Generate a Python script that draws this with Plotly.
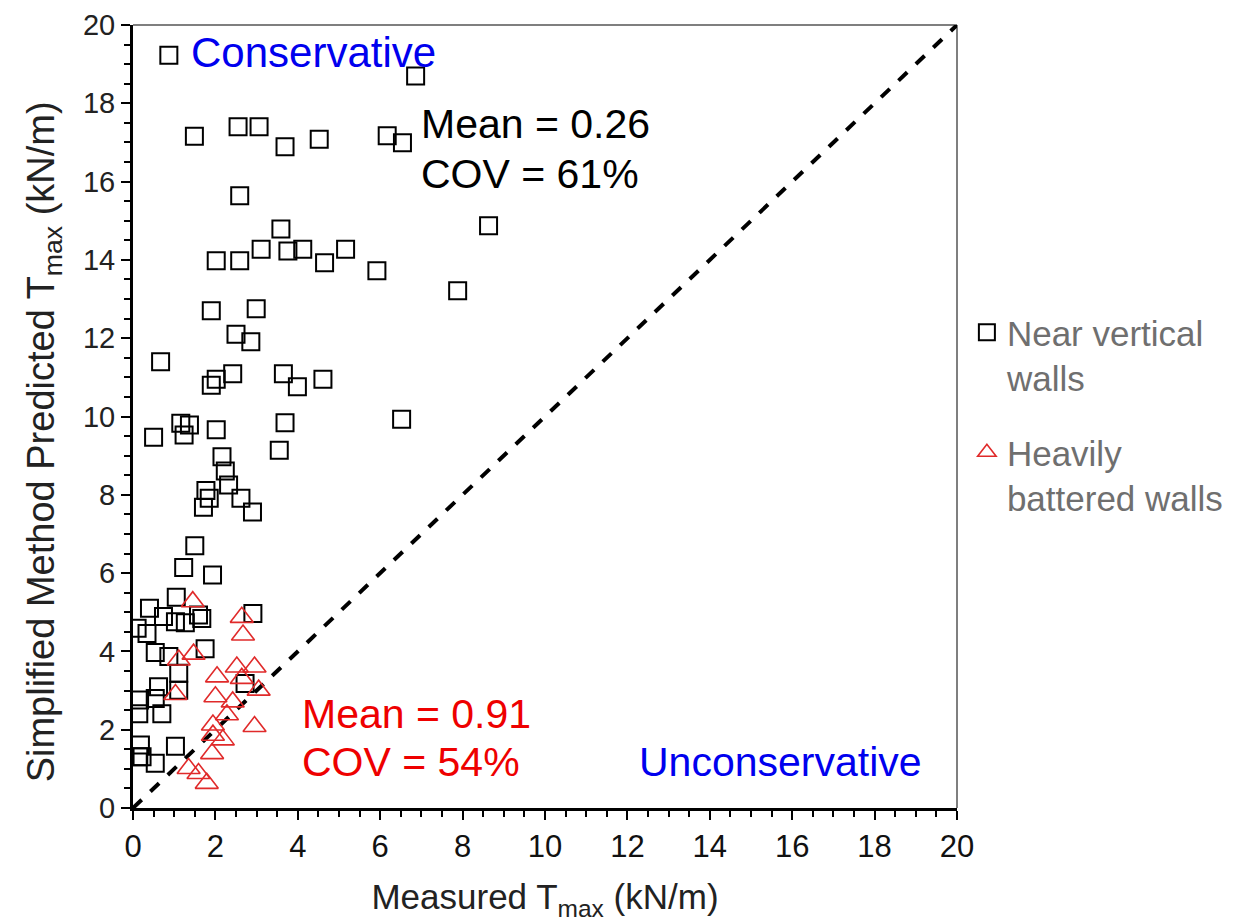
import plotly.graph_objects as go

# Near vertical walls (measured, predicted) in kN/m
near_x = [0.87, 6.86, 1.49, 2.55, 3.06, 3.69, 4.52, 6.17, 6.54, 2.59, 3.59, 8.63,
          2.02, 2.59, 3.11, 3.76, 4.12, 4.65, 5.16, 5.92, 7.88, 1.90, 2.99, 2.50,
          2.86, 0.67, 1.90, 2.02, 2.42, 3.65, 3.99, 4.61, 6.52, 0.50, 1.16, 1.37,
          1.24, 2.02, 3.69, 3.55, 2.16, 2.24, 2.32, 1.77, 1.85, 1.71, 2.62, 2.90,
          1.50, 1.23, 1.93, 1.05, 0.40, 2.91, 0.74, 1.27, 1.67, 1.59, 1.03, 0.10,
          0.34, 0.54, 0.87, 1.75, 1.11, 1.11, 0.62, 2.72, 0.16, 0.54, 0.14, 0.70,
          1.03, 0.18, 0.14, 0.22, 0.54]
near_y = [19.23, 18.70, 17.16, 17.40, 17.40, 16.89, 17.08, 17.17, 16.99, 15.64, 14.79, 14.87,
          13.98, 13.98, 14.27, 14.23, 14.27, 13.93, 14.27, 13.72, 13.21, 12.70, 12.75, 12.10,
          11.91, 11.40, 10.80, 10.95, 11.09, 11.09, 10.76, 10.95, 9.93, 9.47, 9.83, 9.78,
          9.53, 9.66, 9.84, 9.14, 8.97, 8.61, 8.25, 8.11, 7.91, 7.68, 7.91, 7.56,
          6.70, 6.14, 5.95, 5.38, 5.10, 4.97, 4.89, 4.73, 4.84, 4.93, 4.76, 4.59,
          4.46, 3.97, 3.87, 4.07, 3.44, 3.01, 3.10, 3.18, 2.76, 2.80, 2.41, 2.41,
          1.58, 1.61, 1.31, 1.31, 1.14]

# Heavily battered walls
batt_x = [1.45, 2.64, 2.67, 1.11, 1.47, 2.52, 2.95, 2.04, 2.64, 3.05, 1.03, 2.00,
          2.42, 2.28, 1.94, 2.95, 2.18, 1.94, 1.92, 1.35, 1.59, 1.79]
batt_y = [5.27, 4.87, 4.42, 3.78, 3.93, 3.60, 3.60, 3.35, 3.31, 3.01, 2.90, 2.84,
          2.71, 2.38, 2.12, 2.08, 1.74, 1.86, 1.39, 1.01, 0.88, 0.63]

one_to_one = [0, 20]
tick_vals = [0, 2, 4, 6, 8, 10, 12, 14, 16, 18, 20]

FONT = "Liberation Sans, Arial, sans-serif"

fig = go.Figure()
fig.add_trace(go.Scatter(x=one_to_one, y=one_to_one, mode="lines",
                         line=dict(color="black", width=4, dash="dash"),
                         showlegend=False, hoverinfo="skip"))
fig.add_trace(go.Scatter(x=near_x, y=near_y, mode="markers",
                         name="Near vertical<br>walls", legendgroup="near",
                         marker=dict(symbol="square-open", size=17,
                                     color="black", line=dict(width=2))))
fig.add_trace(go.Scatter(x=batt_x, y=batt_y, mode="markers",
                         name="Heavily<br>battered walls", legendgroup="batt",
                         marker=dict(symbol="triangle-up-open", size=20,
                                     color="#e02a2a", line=dict(width=1.6))))

annots = [
    dict(x=1.35, y=19.31, text="Conservative", color="#0000ee", xanchor="left", size=42),
    dict(x=6.95, y=17.47, text="Mean = 0.26", color="black", xanchor="left", size=41),
    dict(x=6.95, y=16.19, text="COV = 61%", color="black", xanchor="left", size=41),
    dict(x=4.05, y=2.40, text="Mean = 0.91", color="#ee0000", xanchor="left", size=41),
    dict(x=4.05, y=1.17, text="COV = 54%", color="#ee0000", xanchor="left", size=41),
    dict(x=19.2, y=1.17, text="Unconservative", color="#0000ee", xanchor="right", size=41),
]
for a in annots:
    fig.add_annotation(x=a["x"], y=a["y"], text=a["text"], showarrow=False,
                       xanchor=a["xanchor"], yanchor="middle",
                       font=dict(family=FONT, size=a["size"], color=a["color"]))

# y-axis title, placed as rotated text left of the axis
fig.add_annotation(xref="paper", yref="paper", x=-0.108, y=0.467,
                   text="Simplified Method Predicted T<sub>max</sub> (kN/m)",
                   textangle=-90, showarrow=False, xanchor="center", yanchor="middle",
                   font=dict(family=FONT, size=38, color="#222222"))

# thin frame on top and right
fig.add_shape(type="line", xref="paper", yref="paper", x0=0, x1=1, y0=1, y1=1,
              line=dict(color="#555555", width=1.5), layer="below")
fig.add_shape(type="line", xref="paper", yref="paper", x0=1, x1=1, y0=0, y1=1,
              line=dict(color="#555555", width=1.5), layer="below")

axis_common = dict(range=[0, 20], tickvals=tick_vals, showgrid=False, zeroline=False,
                   showline=True, linecolor="black", linewidth=3, automargin=False,
                   ticks="outside", ticklen=9, tickwidth=2, tickcolor="black",
                   minor=dict(dtick=0.5, ticks="outside", ticklen=6, tickwidth=1.5,
                              tickcolor="black", showgrid=False))

fig.update_xaxes(**axis_common,
                 tickfont=dict(family=FONT, size=31, color="#111111"),
                 title=dict(text="Measured T<sub>max</sub> (kN/m)",
                            font=dict(family=FONT, size=35, color="#222222"),
                            standoff=22))
fig.update_yaxes(**axis_common,
                 tickfont=dict(family=FONT, size=29, color="#222222"))

fig.update_layout(
    width=1237, height=923,
    margin=dict(l=125, r=288, t=17, b=123),
    plot_bgcolor="white", paper_bgcolor="white",
    legend=dict(x=1.012, y=0.645, xanchor="left", yanchor="top", valign="top",
                font=dict(family=FONT, size=35, color="#6f6f6f"),
                tracegroupgap=26, itemwidth=30, bgcolor="rgba(0,0,0,0)"),
)

fig.write_html("out.html")
